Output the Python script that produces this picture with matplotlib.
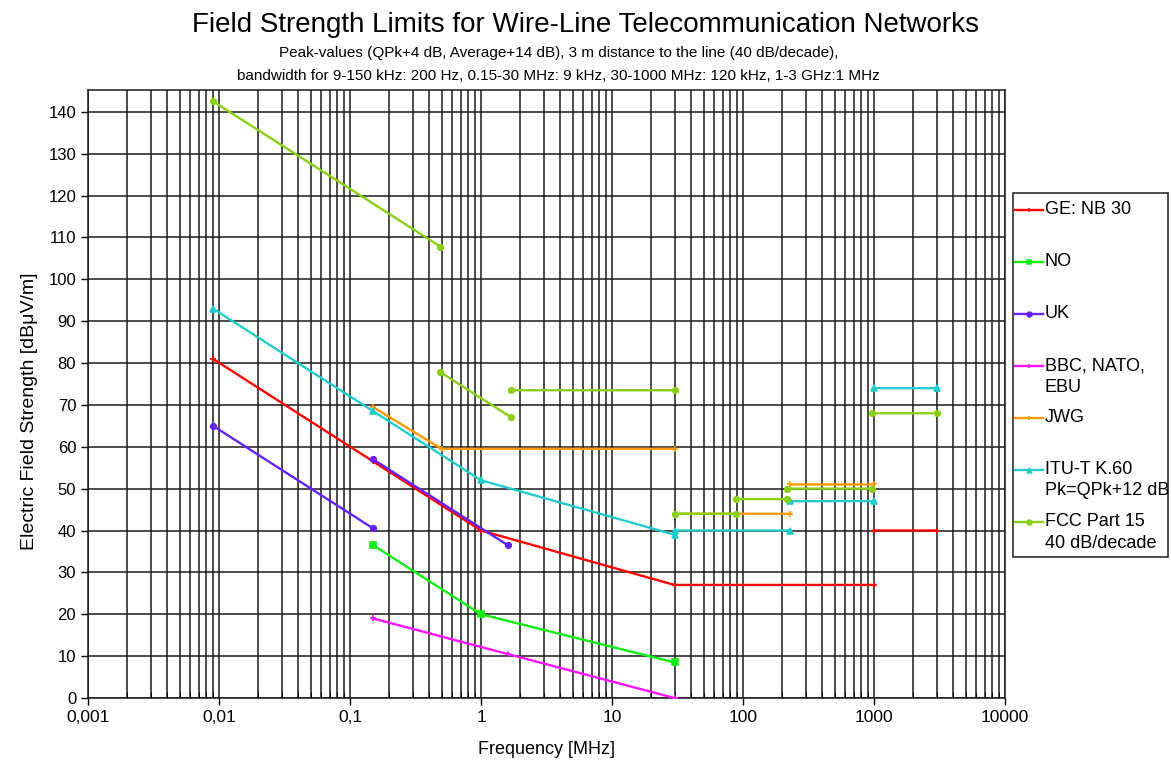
import numpy as np
import matplotlib
matplotlib.use('Agg')
import matplotlib.pyplot as plt
from matplotlib.lines import Line2D
from matplotlib.patches import Rectangle
from matplotlib.ticker import FixedLocator, NullFormatter

plt.rcParams['font.family'] = ['Liberation Sans', 'DejaVu Sans']

nan = np.nan

# frequency [MHz] / field strength [dBuV/m], NaN separates segments
ge_f = [0.009, 0.15, 1, 30, 1000, nan, 1000, 3000]
ge_e = [81, 56.5, 40, 27, 27, nan, 40, 40]

no_f = [0.15, 1, 30]
no_e = [36.5, 20, 8.5]

uk_f = [0.009, 0.15, nan, 0.15, 1.6]
uk_e = [65, 40.5, nan, 57, 36.5]

bbc_f = [0.15, 1.6, 30]
bbc_e = [19, 10.5, 0]

jwg_f = [0.15, 0.5, 30, nan, 30, 230, nan, 230, 1000]
jwg_e = [69.5, 59.5, 59.5, nan, 44, 44, nan, 51, 51]

itu_f = [0.009, 0.15, 1, 30, nan, 30, 230, nan, 230, 1000, nan, 1000, 3000]
itu_e = [93, 68.5, 52, 39, nan, 40, 40, nan, 47, 47, nan, 74, 74]

fcc_f = [0.009, 0.49, nan, 0.49, 1.705, nan, 1.705, 30, nan, 30, 88, nan,
         88, 216, nan, 216, 960, nan, 960, 3000]
fcc_e = [142.5, 107.8, nan, 77.8, 67, nan, 73.5, 73.5, nan, 44, 44, nan,
         47.5, 47.5, nan, 50, 50, nan, 68, 68]

series = [
    (['GE: NB 30'], ge_f, ge_e, '#ff0000', '+'),
    (['NO'], no_f, no_e, '#11ee11', 's'),
    (['UK'], uk_f, uk_e, '#6622ff', 'o'),
    (['BBC, NATO,', 'EBU'], bbc_f, bbc_e, '#ff11ff', '+'),
    (['JWG'], jwg_f, jwg_e, '#ff9900', '+'),
    (['ITU-T K.60', 'Pk=QPk+12 dB'], itu_f, itu_e, '#22cccc', '^'),
    (['FCC Part 15', '40 dB/decade'], fcc_f, fcc_e, '#88d014', 'o'),
]

x_ticks = [0.001, 0.01, 0.1, 1, 10, 100, 1000, 10000]
x_labels = ['0,001', '0,01', '0,1', '1', '10', '100', '1000', '10000']
y_ticks = list(range(0, 141, 10))

W, H = 1171, 763
fig = plt.figure(figsize=(W / 100, H / 100), dpi=100)
ax = fig.add_axes([88 / W, 1 - 698 / H, 917 / W, 608 / H])

for label, f, e, c, m in series:
    ax.plot(f, e, color=c, lw=1.7, marker=m, ms=4, mew=1.2, zorder=3)

ax.set_xscale('log')
ax.set_xlim(0.001, 10000)
ax.set_ylim(0, 145.2)

minors = [k * 10.0 ** d for d in range(-3, 4) for k in range(2, 10)]
ax.xaxis.set_major_locator(FixedLocator(x_ticks))
ax.xaxis.set_minor_locator(FixedLocator(minors))
ax.set_xticklabels(x_labels)
ax.xaxis.set_minor_formatter(NullFormatter())
ax.set_yticks(y_ticks)

ax.grid(True, which='both', axis='x', color='#1a1a1a', lw=1.1)
ax.grid(True, which='major', axis='y', color='#1a1a1a', lw=1.1)
ax.tick_params(axis='y', which='major', labelsize=12, length=5,
               width=1, direction='out')
ax.tick_params(axis='x', which='major', labelsize=12.5, length=5,
               width=1, direction='out')
ax.tick_params(axis='x', which='minor', length=4, direction='in')
for s in ax.spines.values():
    s.set_linewidth(1.1)
    s.set_color('#1a1a1a')

ax.set_xlabel('Frequency [MHz]', fontsize=13, labelpad=12)
ax.set_ylabel('Electric Field Strength [dB\u03bcV/m]', fontsize=14)
ax.yaxis.set_label_coords((38 - 88) / 917, (698 - 411) / 608)

fig.text(0.5, 1 - 32 / H, 'Field Strength Limits for Wire-Line Telecommunication Networks',
         ha='center', va='baseline', fontsize=20)
fig.text(0.477, 1 - 57 / H, 'Peak-values (QPk+4 dB, Average+14 dB), 3 m distance to the line (40 dB/decade),',
         ha='center', va='baseline', fontsize=11)
fig.text(0.477, 1 - 80 / H, 'bandwidth for 9-150 kHz: 200 Hz, 0.15-30 MHz: 9 kHz, 30-1000 MHz: 120 kHz, 1-3 GHz:1 MHz',
         ha='center', va='baseline', fontsize=11)

# legend box drawn by hand so each entry sits on its own fixed slot
fig.add_artist(Rectangle((1013 / W, 1 - 557 / H), 155 / W, 364 / H,
                         transform=fig.transFigure, fill=False,
                         edgecolor='#1a1a1a', lw=1.1))
for i, (label, f, e, c, m) in enumerate(series):
    py = 210 + 52 * i
    fig.add_artist(Line2D([1015 / W, 1043 / W], [1 - py / H, 1 - py / H],
                          transform=fig.transFigure, color=c, lw=1.7))
    fig.add_artist(Line2D([1029 / W], [1 - py / H], transform=fig.transFigure,
                          color=c, marker=m, ms=3.5, mew=1.1))
    for j, line in enumerate(label):
        fig.text(1045 / W, 1 - (py + 21 * j) / H, line, ha='left',
                 va='center', fontsize=13)

fig.savefig('out.png', dpi=100)
